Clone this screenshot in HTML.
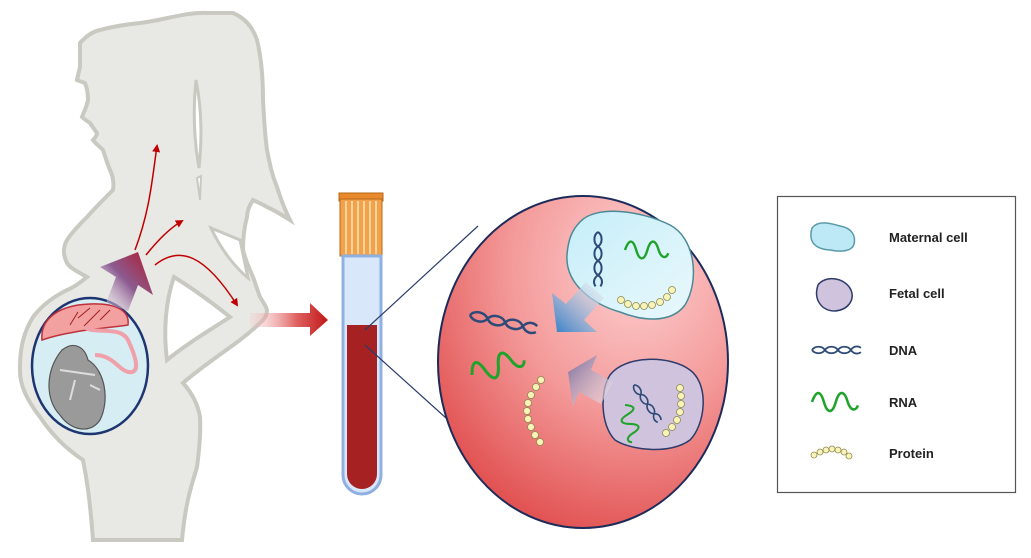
<!DOCTYPE html>
<html><head><meta charset="utf-8"><style>
html,body{margin:0;padding:0;background:#fff;}
svg{display:block}
text{font-family:"Liberation Sans",sans-serif;font-weight:bold;font-size:13px;fill:#222}
</style></head><body>
<svg width="1031" height="558" viewBox="0 0 1031 558" xmlns="http://www.w3.org/2000/svg">
<defs>
<radialGradient id="blood" cx="0.68" cy="0.22" r="0.95">
<stop offset="0" stop-color="#fdd0d0"/><stop offset="0.45" stop-color="#f49a9a"/><stop offset="1" stop-color="#dc3c3c"/></radialGradient>
<linearGradient id="mat" x1="0" y1="0" x2="1" y2="1"><stop offset="0" stop-color="#c6eef9"/><stop offset="1" stop-color="#e9f8fc"/></linearGradient>
<linearGradient id="pur" x1="0" y1="1" x2="1" y2="0"><stop offset="0" stop-color="#f2eef6" stop-opacity="0.3"/><stop offset="0.5" stop-color="#8c5b90"/><stop offset="1" stop-color="#b01a2a"/></linearGradient>
<linearGradient id="redarr" x1="0" y1="0" x2="1" y2="0"><stop offset="0" stop-color="#f6c4c4" stop-opacity="0.2"/><stop offset="0.6" stop-color="#e06060"/><stop offset="1" stop-color="#c01818"/></linearGradient>
<linearGradient id="blueArr" x1="1" y1="0" x2="0" y2="1"><stop offset="0" stop-color="#f8f0f0" stop-opacity="0.5"/><stop offset="1" stop-color="#2f7fc8"/></linearGradient>
<linearGradient id="purArr" x1="1" y1="1" x2="0" y2="0"><stop offset="0" stop-color="#f8f0f0" stop-opacity="0.5"/><stop offset="1" stop-color="#7a6a9a"/></linearGradient>
<marker id="ah" markerWidth="8" markerHeight="8" refX="6" refY="4" orient="auto" markerUnits="userSpaceOnUse"><path d="M0,0 L8,4 L0,8 Z" fill="#c00000"/></marker>
<g id="dna"><path d="M0,0 C4,-6 14,-6 18,0 C22,6 32,6 36,0 C40,-6 50,-6 54,0 C58,6 64,6 68,3" fill="none" stroke="#2d4a78" stroke-width="2.5"/><path d="M0,0 C4,6 14,6 18,0 C22,-6 32,-6 36,0 C40,6 50,6 54,0 C58,-6 64,-6 68,-3" fill="none" stroke="#2d4a78" stroke-width="2.5"/></g>
<path id="rna" d="M0,0 C5,-14 10,-14 14,0 C18,14 24,14 28,0 C32,-14 38,-14 42,0 C46,12 52,10 54,4" fill="none" stroke="#1fa32a" stroke-width="3"/>
</defs>

<!-- woman silhouette -->
<path d="M80,43 C88,34 95,31 100,30 C115,26 130,24 140,23 C165,20 185,12 207,13 L233,13 C245,18 253,28 257,40 C262,60 263,80 263,100 C264,120 265,135 267,150 C270,165 272,175 277,187 C281,200 286,212 290,220 C282,215 274,210 267,207 C262,204 257,202 253,200 C249,206 247,211 247,217 C244,228 243,240 243,250 C246,262 250,270 253,277 C256,285 258,292 260,297 C263,302 266,306 267,310 C267,315 265,318 263,320 C255,328 248,334 240,340 C220,355 200,368 183,383 C192,393 198,405 200,417 C201,435 199,452 197,467 C193,482 186,497 182,540 L93,540 C90,500 87,480 83,460 C68,450 52,435 40,417 C27,400 19,385 20,367 C20,345 25,330 33,317 C42,305 55,296 67,290 C75,287 82,281 87,277 C78,272 70,268 67,263 C63,255 63,247 67,240 C72,232 80,224 87,217 C95,208 104,199 113,190 C114,183 113,176 110,170 C107,163 105,156 103,150 C99,146 95,143 93,140 C95,138 97,135 97,133 C94,129 92,126 90,123 C87,121 84,119 82,117 C84,112 87,106 88,100 C88,94 87,88 85,83 C82,82 79,81 77,80 C78,75 79,71 80,67 C80,58 80,50 80,43 Z" fill="#e8e8e5" stroke="#c9c9c2" stroke-width="4"/>
<path d="M196,80 C202,110 202,140 199,168 C194,140 193,110 196,80 Z" fill="#fff" stroke="#c9c9c2" stroke-width="3"/>
<path d="M197,178 L201,176 L200,200 Z" fill="#fff" stroke="#c9c9c2" stroke-width="2"/>
<path d="M211,228 L240,240 L248,278 C238,270 222,252 211,228 Z" fill="#fff" stroke="#c9c9c2" stroke-width="3"/>
<path d="M174,277 C195,290 215,305 230,317 C210,330 185,345 167,360 C163,330 166,300 174,277 Z" fill="#fff" stroke="#c9c9c2" stroke-width="4"/>

<!-- womb -->
<ellipse cx="90" cy="366" rx="58" ry="68" fill="#d6edf4" stroke="#1d3570" stroke-width="2.5"/>
<path d="M42,340 C40,318 60,305 90,304 C115,303 130,310 128,325 C110,328 70,330 42,340 Z" fill="#f2a0a0" stroke="#c0303a" stroke-width="1.5"/>
<path d="M70,325 L78,312 M78,318 L90,308 M84,326 L100,310 M100,320 L110,310" stroke="#a02020" stroke-width="1"/>
<path d="M84,327 C95,335 120,325 128,340 C135,355 140,370 132,372 C120,374 115,355 95,355" fill="none" stroke="#f0a0a8" stroke-width="4"/>
<path d="M62,350 C75,340 85,348 88,360 C105,370 110,400 100,420 C90,435 70,430 60,415 C45,400 45,370 62,350 Z" fill="#9a9a9a" stroke="#555" stroke-width="1.2"/>
<path d="M60,370 L95,375 M75,380 L70,400 M90,385 L100,390" stroke="#ddd" stroke-width="2"/>

<!-- arrows in body -->
<path d="M138,252 L153,295 L138,285 L128,311 L106,303 L116,277 L100,267 Z" fill="url(#pur)"/>
<path d="M135,250 C150,210 152,180 157,146" fill="none" stroke="#c00000" stroke-width="1.5" marker-end="url(#ah)"/>
<path d="M146,255 C158,240 170,228 182,221" fill="none" stroke="#c00000" stroke-width="1.5" marker-end="url(#ah)"/>
<path d="M155,265 C180,245 205,255 237,305" fill="none" stroke="#c00000" stroke-width="1.5" marker-end="url(#ah)"/>
<path d="M250,313 L310,313 L310,303 L328,320 L310,336 L310,327 L250,327 Z" fill="url(#redarr)"/>

<!-- tube -->
<rect x="339" y="193" width="44" height="8" fill="#e88a2c" stroke="#b86818"/>
<rect x="340" y="199" width="42" height="57" fill="#f2a24a" stroke="#b86818"/>
<path d="M346,201 V254 M352,201 V254 M358,201 V254 M364,201 V254 M370,201 V254 M376,201 V254" stroke="#fbd39c" stroke-width="2"/>
<path d="M343,256 V475 A19,19 0 0 0 381,475 V256 Z" fill="#d9e7fb" stroke="#8fb0e0" stroke-width="3"/>
<path d="M347,325 H377 V474 A15,15 0 0 1 347,474 Z" fill="#a62222"/>
<line x1="365" y1="330" x2="478" y2="226" stroke="#2a3c6c" stroke-width="1.2"/>
<line x1="365" y1="345" x2="466" y2="436" stroke="#2a3c6c" stroke-width="1.2"/>

<!-- zoom circle -->
<ellipse cx="583" cy="362" rx="145" ry="166" fill="url(#blood)" stroke="#1d2b5a" stroke-width="2"/>
<path d="M580,222 C595,205 640,210 670,225 C695,238 700,280 685,305 C670,325 640,320 620,312 C595,305 565,285 567,255 C568,240 572,230 580,222 Z" fill="url(#mat)" stroke="#4a8a98" stroke-width="1.5"/>
<path d="M610,375 C625,355 670,355 690,370 C710,385 705,425 690,440 C670,455 630,450 615,440 C600,425 600,390 610,375 Z" fill="#cfc3dd" stroke="#2d3a6a" stroke-width="1.5"/>
<g transform="translate(598,232) rotate(90) scale(0.8)"><use href="#dna"/></g>
<g transform="translate(625,250) scale(0.8)"><use href="#rna"/></g>
<g fill="#faf3b8" stroke="#8a8a50" stroke-width="0.8">
<circle cx="621" cy="300" r="3.5"/><circle cx="628" cy="304" r="3.5"/><circle cx="636" cy="306" r="3.5"/><circle cx="644" cy="306" r="3.5"/><circle cx="652" cy="305" r="3.5"/><circle cx="660" cy="302" r="3.5"/><circle cx="667" cy="297" r="3.5"/><circle cx="672" cy="290" r="3.5"/>
<circle cx="680" cy="388" r="3.5"/><circle cx="681" cy="396" r="3.5"/><circle cx="681" cy="404" r="3.5"/><circle cx="680" cy="412" r="3.5"/><circle cx="677" cy="420" r="3.5"/><circle cx="672" cy="427" r="3.5"/><circle cx="666" cy="433" r="3.5"/>
<circle cx="541" cy="380" r="3.5"/><circle cx="536" cy="387" r="3.5"/><circle cx="531" cy="395" r="3.5"/><circle cx="528" cy="403" r="3.5"/><circle cx="527" cy="411" r="3.5"/><circle cx="528" cy="419" r="3.5"/><circle cx="531" cy="427" r="3.5"/><circle cx="535" cy="435" r="3.5"/><circle cx="540" cy="442" r="3.5"/>
</g>
<g transform="translate(634,385) rotate(55) scale(0.65)"><use href="#dna"/></g>
<g transform="translate(625,405) rotate(75) scale(0.7)"><use href="#rna"/></g>
<g transform="translate(470,315) rotate(12)"><use href="#dna"/></g>
<g transform="translate(472,375) rotate(-20)"><use href="#rna"/></g>
<path d="M557,332 L552,293 L566,304 L586,282 L604,298 L584,320 L597,332 Z" fill="url(#blueArr)"/>
<path d="M568,372 L597,355 L591,370 L613,382 L601,404 L579,392 L573,407 Z" fill="url(#purArr)"/>

<!-- legend -->
<rect x="777.5" y="196.5" width="238" height="296" fill="#fff" stroke="#555" stroke-width="1.2"/>
<path d="M812,228 C818,220 830,223 840,226 C852,228 856,236 854,244 C852,252 840,252 830,250 C815,249 808,242 812,228 Z" fill="#bde9f6" stroke="#5a9aa8" stroke-width="1.5"/>
<path d="M818,285 C825,275 845,277 851,290 C855,300 848,310 835,311 C822,311 813,300 818,285 Z" fill="#cfc3dd" stroke="#2d3a6a" stroke-width="1.5"/>
<g transform="translate(812,350) scale(0.72)"><use href="#dna"/></g>
<g transform="translate(812,402) scale(0.85)"><use href="#rna"/></g>
<g fill="#faf3b8" stroke="#8a8a50" stroke-width="0.8">
<circle cx="814" cy="455" r="3"/><circle cx="820" cy="452" r="3"/><circle cx="826" cy="450" r="3"/><circle cx="832" cy="449" r="3"/><circle cx="838" cy="450" r="3"/><circle cx="844" cy="452" r="3"/><circle cx="849" cy="456" r="3"/>
</g>
<text x="889" y="242">Maternal cell</text>
<text x="889" y="298">Fetal cell</text>
<text x="889" y="355">DNA</text>
<text x="889" y="407">RNA</text>
<text x="889" y="458">Protein</text>
</svg>
</body></html>
